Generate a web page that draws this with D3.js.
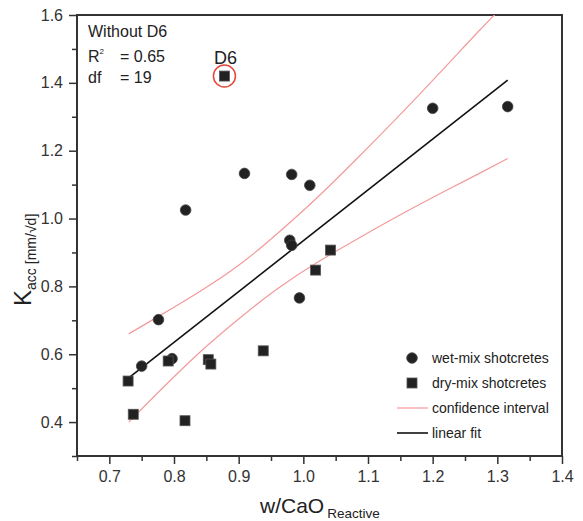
<!DOCTYPE html>
<html>
<head>
<meta charset="utf-8">
<script src="https://cdn.jsdelivr.net/npm/d3@7"></script>
<style>
  body { margin: 0; background: #fff; }
  svg { display: block; font-family: Arial, "Liberation Sans", sans-serif; }
</style>
</head>
<body>
<svg id="chart" width="583" height="521"></svg>
<script>
// Wet-mix shotcretes (circles)
const wetX = [0.750, 0.776, 0.797, 0.818, 0.909, 0.979, 0.982, 0.982, 0.994, 1.010, 1.200, 1.316];
const wetY = [0.565, 0.702, 0.587, 1.025, 1.133, 0.936, 0.921, 1.130, 0.766, 1.098, 1.325, 1.330];

// Dry-mix shotcretes (squares)
const dryX = [0.729, 0.737, 0.791, 0.817, 0.853, 0.857, 0.938, 1.019, 1.042];
const dryY = [0.521, 0.423, 0.580, 0.404, 0.584, 0.571, 0.610, 0.848, 0.907];

// Excluded outlier D6 (dry-mix)
const outlierName = "D6";
const outlierX = [0.878];
const outlierY = [1.420];

// Linear fit (without D6) and its confidence band
const fitX = [0.730, 1.316];
const fitY = [0.530, 1.408];
const ciX     = [0.730, 0.780, 0.840, 0.900, 0.960, 1.020, 1.080, 1.150, 1.220, 1.270, 1.316];
const ciUpper = [0.660, 0.716, 0.785, 0.862, 0.956, 1.059, 1.171, 1.307, 1.448, 1.550, 1.640];
const ciLower = [0.400, 0.496, 0.606, 0.704, 0.793, 0.869, 0.936, 1.011, 1.082, 1.131, 1.177];

// Axis ticks
const xMajor = [0.7, 0.8, 0.9, 1.0, 1.1, 1.2, 1.3, 1.4];
const xMinor = [0.65, 0.75, 0.85, 0.95, 1.05, 1.15, 1.25, 1.35];
const yMajor = [0.4, 0.6, 0.8, 1.0, 1.2, 1.4, 1.6];
const yMinor = [0.3, 0.5, 0.7, 0.9, 1.1, 1.3, 1.5];

// Fit statistics
const statsTitle = "Without D6";
const rSquared = "0.65";
const degFree = "19";

const legendItems = [
  { label: "wet-mix shotcretes", type: "circle" },
  { label: "dry-mix shotcretes", type: "square" },
  { label: "confidence interval", type: "ci" },
  { label: "linear fit", type: "fit" }
];

const svg = d3.select("#chart");
const L = 77, R = 562, T = 15, B = 456;
const x = d3.scaleLinear().domain([0.65, 1.4]).range([L, R]);
const y = d3.scaleLinear().domain([0.3, 1.6]).range([B, T]);

const axisColor = "#333";
const markColor = "#222";
const ciColor = "#f39a9a";

svg.append("defs").append("clipPath").attr("id", "plotClip")
  .append("rect").attr("x", L).attr("y", T).attr("width", R - L).attr("height", B - T);

// Axes (ticks only; the frame is drawn separately)
function styleAxis(g) {
  g.select(".domain").remove();
  g.selectAll(".tick line").attr("stroke", axisColor).attr("stroke-width", 1.5);
  g.selectAll(".tick text").attr("fill", "#333").attr("font-size", 16)
    .attr("font-family", "Arial, 'Liberation Sans', sans-serif");
}
const fmt = d3.format(".1f");
svg.append("g").attr("transform", `translate(0,${B})`)
  .call(d3.axisBottom(x).tickValues(xMinor).tickSize(5).tickFormat(""))
  .call(styleAxis);
svg.append("g").attr("transform", `translate(0,${B})`)
  .call(d3.axisBottom(x).tickValues(xMajor).tickSize(8).tickPadding(7).tickFormat(fmt))
  .call(styleAxis);
svg.append("g").attr("transform", `translate(${L},0)`)
  .call(d3.axisLeft(y).tickValues(yMinor).tickSize(5).tickFormat(""))
  .call(styleAxis);
svg.append("g").attr("transform", `translate(${L},0)`)
  .call(d3.axisLeft(y).tickValues(yMajor).tickSize(8).tickPadding(6).tickFormat(fmt))
  .call(styleAxis);

// Frame
svg.append("rect").attr("x", L).attr("y", T).attr("width", R - L).attr("height", B - T)
  .attr("fill", "none").attr("stroke", axisColor).attr("stroke-width", 2);

// Confidence band and fit line
const plot = svg.append("g").attr("clip-path", "url(#plotClip)");
const band = d3.line().x(d => x(d[0])).y(d => y(d[1])).curve(d3.curveNatural);
plot.append("path").attr("d", band(ciX.map((v, i) => [v, ciUpper[i]])))
  .attr("fill", "none").attr("stroke", ciColor).attr("stroke-width", 1.2);
plot.append("path").attr("d", band(ciX.map((v, i) => [v, ciLower[i]])))
  .attr("fill", "none").attr("stroke", ciColor).attr("stroke-width", 1.2);
plot.append("path").attr("d", d3.line().x(d => x(d[0])).y(d => y(d[1]))(fitX.map((v, i) => [v, fitY[i]])))
  .attr("fill", "none").attr("stroke", "#111").attr("stroke-width", 1.6);

// Markers
const sq = 10;
svg.append("g").selectAll("circle").data(wetX.map((v, i) => [v, wetY[i]])).join("circle")
  .attr("cx", d => x(d[0])).attr("cy", d => y(d[1])).attr("r", 5.3)
  .attr("fill", markColor).attr("stroke", "#444").attr("stroke-width", 0.8);
svg.append("g").selectAll("rect").data(dryX.map((v, i) => [v, dryY[i]])).join("rect")
  .attr("x", d => x(d[0]) - sq / 2).attr("y", d => y(d[1]) - sq / 2)
  .attr("width", sq).attr("height", sq)
  .attr("fill", markColor).attr("stroke", "#555").attr("stroke-width", 0.8);

// Outlier D6 with its red ring and label
const oG = svg.append("g");
oG.selectAll("rect").data(outlierX.map((v, i) => [v, outlierY[i]])).join("rect")
  .attr("x", d => x(d[0]) - sq / 2).attr("y", d => y(d[1]) - sq / 2)
  .attr("width", sq).attr("height", sq)
  .attr("fill", markColor).attr("stroke", "#555").attr("stroke-width", 0.8);
oG.selectAll("circle").data(outlierX.map((v, i) => [v, outlierY[i]])).join("circle")
  .attr("cx", d => x(d[0])).attr("cy", d => y(d[1])).attr("r", 11)
  .attr("fill", "none").attr("stroke", "#e5483b").attr("stroke-width", 1.5);
oG.selectAll("text").data(outlierX.map((v, i) => [v, outlierY[i]])).join("text")
  .attr("x", d => x(d[0]) + 1).attr("y", d => y(d[1]) - 12)
  .attr("text-anchor", "middle").attr("font-size", 18).attr("fill", "#222")
  .text(outlierName);

// Fit statistics block
const st = svg.append("g").attr("fill", "#222").attr("font-size", 16);
st.append("text").attr("x", 88).attr("y", 37).text(statsTitle);
const r2 = st.append("text").attr("x", 88).attr("y", 62);
r2.append("tspan").text("R");
r2.append("tspan").attr("font-size", 8).attr("dy", -8).text("2");
st.append("text").attr("x", 120).attr("y", 62).text("= " + rSquared);
st.append("text").attr("x", 88).attr("y", 83).text("df");
st.append("text").attr("x", 120).attr("y", 83).text("= " + degFree);

// Axis titles
const xt = svg.append("text").attr("x", 260).attr("y", 513).attr("fill", "#222");
xt.append("tspan").attr("font-size", 21).text("w/CaO");
xt.append("tspan").attr("font-size", 13.5).attr("dx", 3).attr("dy", 5).text("Reactive");

const yt = svg.append("text").attr("transform", "translate(31,306) rotate(-90)").attr("fill", "#222");
yt.append("tspan").attr("font-size", 24).text("K");
yt.append("tspan").attr("font-size", 14).attr("dy", 5).text("acc");
yt.append("tspan").attr("font-size", 14).attr("dx", 4).text("[mm/\u221Ad]");

// Legend
const lg = svg.append("g");
const lx = 412, ly0 = 358, lstep = 25;
legendItems.forEach((it, i) => {
  const cy = ly0 + i * lstep;
  if (it.type === "circle") {
    lg.append("circle").attr("cx", lx).attr("cy", cy).attr("r", 5.3)
      .attr("fill", markColor).attr("stroke", "#444").attr("stroke-width", 0.8);
  } else if (it.type === "square") {
    lg.append("rect").attr("x", lx - sq / 2).attr("y", cy - sq / 2).attr("width", sq).attr("height", sq)
      .attr("fill", markColor).attr("stroke", "#555").attr("stroke-width", 0.8);
  } else {
    lg.append("line").attr("x1", 397).attr("x2", 428).attr("y1", cy).attr("y2", cy)
      .attr("stroke", it.type === "ci" ? ciColor : "#111")
      .attr("stroke-width", it.type === "ci" ? 1.2 : 1.6);
  }
  lg.append("text").attr("x", 432).attr("y", cy + 5).attr("font-size", 14).attr("fill", "#222")
    .text(it.label);
});
</script>
</body>
</html>
